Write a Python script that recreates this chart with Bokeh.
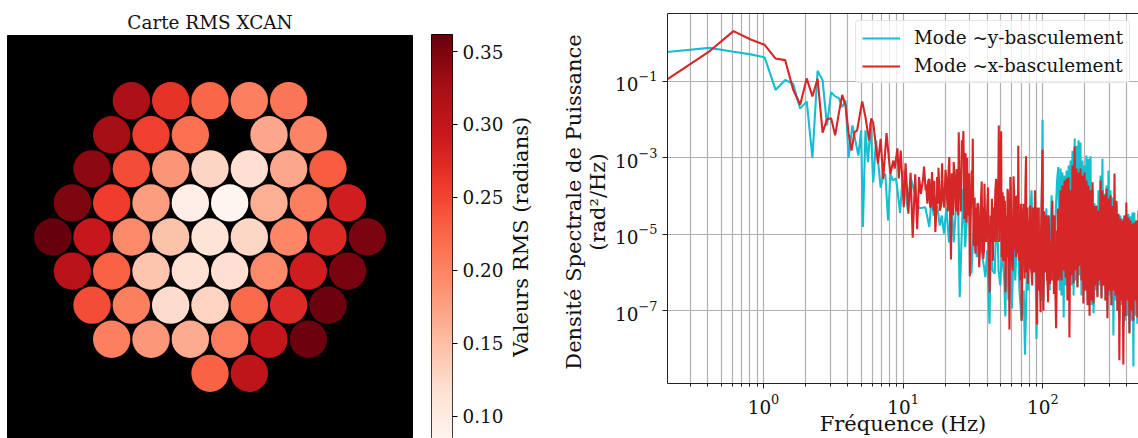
import numpy as np
from bokeh.embed import file_html
from bokeh.layouts import column, row
from bokeh.models import (ColumnDataSource, FixedTicker, Legend, LegendItem, LinearAxis, LogAxis,
                          LinearColorMapper, Range1d, Title)
from bokeh.palettes import Reds256
from bokeh.plotting import figure
from bokeh.resources import INLINE

SERIF = "DejaVu Serif"
TEXT = "#111111"

# ---------- segment map: one list per hexagonal row, None = no segment
rms_rows = [
    [0.320, 0.265, 0.225, 0.205, 0.212],
    [0.325, 0.255, 0.218, None, 0.170, 0.200],
    [0.340, 0.245, 0.185, 0.128, 0.120, 0.170, 0.232],
    [0.348, 0.257, 0.178, 0.095, 0.0835, 0.163, 0.205, 0.287],
    [0.361, 0.295, 0.195, 0.146, 0.113, 0.127, 0.198, 0.275, 0.350],
    [0.310, 0.228, 0.144, 0.118, 0.120, 0.195, 0.288, 0.352],
    [0.245, 0.205, 0.122, 0.130, 0.222, 0.275, 0.358],
    [0.203, 0.183, 0.167, 0.206, 0.300, 0.358],
    [None, None, 0.228, 0.305, None],
]
rms_low, rms_high = 0.0833, 0.3617
rms_ticks = [0.10, 0.15, 0.20, 0.25, 0.30, 0.35]

# ---------- PSD: (frequency Hz, log10 of rad^2/Hz)
mode_y_low = [
    (0.2,-0.23),(0.41,-0.12),(0.61,-0.22),(0.81,-0.29),(1.02,-0.37),(1.22,-1.22),(1.43,-0.96),(1.63,-1.06),
    (1.83,-1.71),(2.04,-1.52),(2.24,-3.0),(2.44,-0.72),(2.65,-0.97),(2.85,-2.15),(3.05,-1.28),(3.26,-1.39),
    (3.46,-1.43),(3.66,-1.67),(3.87,-1.50),(4.07,-3.0),(4.33,-2.15),(4.78,-2.94),(5.0,-2.28),(5.15,-4.81),
    (5.37,-2.28),(5.6,-3.11),(5.85,-2.07),(6.1,-3.64),(6.4,-2.54),(6.9,-3.78),(7.2,-3.46),(7.45,-3.42),
    (7.8,-4.64),(8.1,-3.41),(8.4,-3.59),(8.9,-3.54),(9.5,-4.44),(10.0,-3.33),(10.8,-4.38),(11.3,-3.5),
    (12.2,-3.98),(13.0,-4.32),(14.4,-4.29),(15.4,-4.81),(16.0,-3.98),(16.5,-4.51),(17.5,-4.25),(18.3,-4.77),
    (18.9,-4.51),(19.6,-4.98),(20.4,-4.3),(21.3,-5.21),(22.2,-4.12),(23.0,-5.21),(24.6,-3.59),(25.4,-6.65),
    (26.9,-3.81),(27.8,-5.34),(29.4,-3.85),(30.8,-6.03),(32.5,-4.38),(33.6,-5.6),(35.7,-4.81),(37.0,-5.6),
]
mode_y_mid = [
    (38.8,-6.12),(40,-5.42),(41.5,-7.34),(42.5,-4.9),(43.6,-5.95),(45.2,-6.03),(46.8,-4.2),(48.2,-5.95),
    (49.6,-6.34),(51,-5.38),(53,-6.21),(53.9,-7.15),(55,-5.16),(56.8,-6.73),(58.5,-5.69),(60,-6.94),
    (62,-5.16),(63.5,-6.21),(65.8,-4.42),(68,-6.47),(70.5,-7.26),(73,-6.47),(74.5,-8.15),(77,-5.82),
    (78.5,-6.47),(80.5,-4.64),(83,-3.85),(85,-5.69),(88,-4.9),(90,-7.74),(93,-4.55),(95,-6.21),
    (97,-6.73),(99.5,-2.0),(101,-6.73),(103,-5.16),(106,-4.32),(108,-5.95),(110,-4.55),(112,-6.47),
    (115.5,-3.98),(119,-6.21),(123.4,-4.51),(126.5,-3.59),(129,-3.24),(132,-6.47),
]
mode_x_low = [
    (0.2,-0.97),(0.41,-0.21),(0.61,0.32),(0.81,0.10),(1.02,-0.04),(1.22,-0.40),(1.43,-0.44),(1.63,-1.21),
    (1.83,-1.61),(2.04,-0.92),(2.24,-1.39),(2.44,-0.93),(2.65,-2.34),(2.85,-1.99),(3.05,-1.96),(3.26,-2.41),
    (3.46,-1.84),(3.66,-1.35),(3.87,-1.63),(4.07,-2.36),(4.27,-2.81),(4.48,-2.33),(4.68,-2.28),(5.09,-1.52),
    (5.37,-1.93),(5.7,-2.54),(5.9,-1.97),(6.1,-2.07),(6.6,-3.15),(6.9,-2.5),(7.2,-3.55),(7.6,-2.35),
    (8.1,-3.42),(8.5,-3.07),(8.7,-3.28),(9.1,-2.75),(9.3,-3.54),(9.6,-2.81),(10.1,-4.29),(10.4,-3.14),
    (10.9,-4.46),(11.3,-3.39),(11.7,-5.09),(12.2,-3.43),(12.6,-4.87),(13.0,-3.50),(13.4,-3.94),(13.9,-3.54),
    (14.1,-3.23),(14.5,-3.85),(15.0,-4.12),(15.4,-3.55),(15.8,-4.25),(16.1,-3.37),(16.6,-4.38),(17.0,-4.94),
    (17.5,-3.85),(17.9,-3.26),(18.3,-4.38),(19.0,-3.14),(19.4,-4.12),(20.1,-3.31),(20.6,-4.07),(21.4,-2.98),
    (22.0,-5.66),(22.5,-4.12),(23.0,-3.11),(23.8,-4.29),(24.5,-3.33),(25.0,-2.33),(25.5,-3.59),(26.3,-2.54),
    (27.0,-2.30),(28.0,-2.89),(29.0,-4.38),(30.0,-6.1),(31.0,-3.33),(31.5,-2.50),(32.5,-4.04),(33.0,-5.51),
    (34.0,-4.2),(35.0,-5.86),(35.8,-4.4),(36.5,-3.62),(37.5,-5.64),(38.2,-3.68),
]
mode_x_mid = [
    (38.8,-4.81),(40.5,-3.77),(41.6,-6.52),(42.3,-4.51),(43.2,-4.07),(43.9,-5.69),(44.7,-4.98),(45.7,-3.85),
    (46.3,-3.55),(47.3,-4.46),(48.4,-2.15),(49,-4.38),(49.5,-4.03),(50.3,-2.3),(51,-4.01),(53,-5.24),
    (53.5,-4.12),(54,-6.52),(54.9,-4.51),(55.9,-3.81),(56.8,-5.16),(57.7,-7.49),(58.5,-3.5),(59.5,-4.9),
    (60.8,-5.95),(61.7,-3.48),(63,-5.42),(64.7,-5.24),(65.8,-3.98),(66.7,-2.68),(67.5,-5.69),(68.5,-4.73),
    (69,-6.21),(70.5,-7.26),(71.9,-4.51),(72.7,-4.2),(73.7,-5.69),(74,-6.16),(75,-3.85),(75.8,-2.96),
    (77,-5.69),(78,-6.3),(79,-4.64),(80.8,-4.25),(82.5,-5.95),(84,-6.34),(85.5,-4.51),(87.8,-3.85),
    (89,-5.95),(91,-7.37),(92,-5.42),(93,-4.77),(94.2,-6.47),(96.4,-7.04),(98,-4.12),(99.5,-2.79),
    (101,-7.0),(103,-5.16),(105,-5.12),(107,-6.21),(109,-6.78),(111,-4.9),(114,-5.2),(115.5,-6.21),
    (117,-4.12),(118.5,-5.95),(120,-6.56),(121.5,-4.51),(124.5,-7.46),(126.5,-4.9),(128,-4.33),(130,-6.21),
    (132,-6.12),
]
# further samples inside the solid red band
mode_x_band = [
    (14.6,-3.7),(14.9,-4.2),(15.1,-3.6),(15.6,-4.3),(16.2,-3.7),(16.4,-4.25),(16.7,-3.6),(17.3,-4.3),
    (17.5,-3.5),(17.8,-4.2),(18.1,-3.7),(18.7,-4.25),(19.1,-3.6),(19.7,-4.3),(20.4,-3.6),(20.9,-4.4),
    (21.1,-3.4),(21.7,-4.5),(22.3,-3.4),(22.8,-4.5),(23.4,-3.5),(24.0,-4.4),(24.2,-3.3),(24.8,-4.5),
    (25.2,-3.3),(25.9,-4.4),(26.6,-3.0),(27.4,-4.6),(27.6,-2.9),(28.3,-4.7),(28.7,-3.0),(29.4,-4.5),
    (29.7,-3.4),(30.4,-4.7),(31.2,-4.2),(31.9,-5.3),(32.2,-4.2),(32.8,-5.4),(33.3,-4.3),(33.6,-5.3),
    (34.4,-4.2),(35.4,-5.5),(36.0,-4.2),(36.9,-5.5),(37.4,-4.3),(37.9,-5.4),(38.5,-4.4),(39.3,-5.2),
    (40,-4.3),(40.9,-5.3),(42.7,-5.2),(44.2,-4.3),(45,-5.2),(46.8,-5.2),(47.8,-4.3),(48.8,-5.2),
    (50.7,-5.6),(51.5,-3.9),(52,-5.7),(52.5,-4.0),(55.4,-5.6),(56.3,-3.9),(57.1,-5.6),(59,-3.8),
    (60,-5.6),(61.2,-5.5),(62.3,-3.9),(63.8,-4.0),(64.2,-5.6),(65.2,-5.0),(66.2,-5.5),(67.1,-4.0),
    (68,-5.6),(69.7,-4.2),(71.2,-5.9),(73.2,-4.3),(76.3,-6.0),(77.5,-4.3),(78.5,-5.9),(80,-5.9),
    (81.6,-4.3),(83,-6.0),(84.8,-4.3),(86.5,-6.0),(88.4,-4.4),(90,-6.0),(91.5,-4.3),(92.5,-6.0),
    (93.5,-4.3),(95.2,-6.0),(97,-5.0),(100,-5.9),(102,-4.4),(104,-6.0),(106,-4.5),(108,-6.2),
    (110,-4.5),(112.5,-6.3),(116,-4.6),(119,-4.5),(122.5,-6.3),(125.5,-6.4),(127.2,-6.2),(129,-4.5),
    (131,-4.6),(133,-4.5),
]
freq_hf = [
    134,136,138,141,143,145.5,148,150,153,155,
    158,160,163,166,169,171.5,174,177,180,183,
    186,189,192,195,199,202,205,209,212,216,
    219.5,223,227,231,234,238,242,246,250,254,
    259,263,267,272,276,281,286,290,295,300,
    305,310,315,320,326,331,337,342,348,353,
    359,365,371,377,384,390,396,403,410,417,
    424,431,438,445,452,460,468,475,484,
]
mode_y_hf = [
    -3.28,-6.60,-3.38,-7.18,-3.46,-6.34,-3.33,-6.47,-3.20,-6.21,
    -3.07,-6.34,-2.81,-6.60,-2.49,-6.21,-2.68,-6.34,-2.54,-6.08,
    -2.60,-6.60,-3.07,-6.34,-3.20,-6.47,-2.94,-6.73,-3.02,-6.47,
    -2.96,-6.86,-3.85,-7.07,-4.19,-6.47,-4.25,-6.60,-3.85,-6.34,
    -3.46,-6.65,-3.02,-6.34,-3.93,-6.73,-3.72,-7.00,-3.33,-6.60,
    -3.85,-6.86,-4.04,-7.65,-4.12,-6.73,-4.25,-7.00,-4.51,-7.26,
    -4.51,-6.86,-4.59,-7.39,-4.51,-7.26,-4.48,-7.13,-4.46,-7.57,
    -4.53,-7.26,-4.43,-8.46,-4.43,-7.13,-4.64,-7.34,-4.72,
]
mode_x_hf = [
    -3.85,-6.21,-3.72,-5.95,-3.59,-6.13,-3.54,-6.73,-3.51,-7.70,
    -3.85,-6.08,-3.20,-6.29,-2.70,-5.95,-3.28,-6.39,-3.38,-5.82,
    -3.28,-6.21,-3.46,-6.81,-3.38,-6.47,-3.59,-6.86,-3.72,-7.13,
    -3.85,-6.73,-3.64,-6.81,-4.25,-6.34,-4.25,-6.65,-4.38,-6.21,
    -3.59,-6.68,-3.85,-6.34,-3.98,-6.73,-3.80,-7.20,-4.06,-6.47,
    -3.98,-6.86,-4.25,-6.47,-3.41,-6.60,-4.12,-7.00,-4.46,-8.30,
    -4.59,-6.73,-4.64,-8.41,-4.51,-7.15,-4.17,-6.73,-4.56,-7.60,
    -4.64,-7.00,-4.72,-7.26,-4.69,-6.73,-4.64,-7.18,-4.38,
]
x_major = [1, 10, 100]
x_minor = [0.3,0.4,0.5,0.6,0.7,0.8,0.9,2,3,4,5,6,7,8,9,20,30,40,50,60,70,80,90,200,300,400]
y_major = [1e-1, 1e-3, 1e-5, 1e-7]

# ---------- left: map
palette = Reds256[::-1]
mapper = LinearColorMapper(palette=palette, low=rms_low, high=rms_high)
seg_x, seg_y, seg_v = [], [], []
root3_2 = np.sqrt(3) / 2
for i, vals in enumerate(rms_rows):
    n = len(vals)
    for j, v in enumerate(vals):
        if v is not None:
            seg_x.append(j - (n - 1) / 2)
            seg_y.append((4 - i) * root3_2)
            seg_v.append(v)

m = figure(width=431, height=438, output_backend="svg", toolbar_location=None,
           x_range=Range1d(-5.149, 5.149), y_range=Range1d(-5.12, 5.12),
           min_border_left=7, min_border_right=19, min_border_top=35, min_border_bottom=0,
           background_fill_color="black", border_fill_color="white", outline_line_color="black")
m.axis.visible = False
m.grid.visible = False
m.title = Title(text="Carte RMS XCAN", align="center", text_font=SERIF, text_font_size="18.4px",
                text_font_style="normal", text_color=TEXT, offset=0, standoff=5)
m.circle(x="x", y="y", radius=0.475, source=ColumnDataSource(dict(x=seg_x, y=seg_y, v=seg_v)),
         fill_color={"field": "v", "transform": mapper}, line_color=None)

# ---------- colour bar
cb = figure(width=75, height=438, output_backend="svg", toolbar_location=None,
            x_range=Range1d(0, 1), y_range=Range1d(0.0847, rms_high),
            min_border_left=0, min_border_right=54, min_border_top=34, min_border_bottom=0,
            outline_line_color="black", border_fill_color="white", y_axis_location="right")
cb.xaxis.visible = False
cb.grid.visible = False
cb.image(image=[np.linspace(rms_low, rms_high, 256).reshape(256, 1)], x=0, y=rms_low, dw=1,
         dh=rms_high - rms_low, color_mapper=mapper)
ax = cb.yaxis[0]
ax.ticker = FixedTicker(ticks=rms_ticks)
ax.major_label_overrides = {t: f"{t:.2f}" for t in rms_ticks}
ax.major_label_text_font = SERIF
ax.major_label_text_font_size = "18.4px"
ax.major_label_text_color = TEXT
ax.major_tick_out = 5
ax.major_tick_in = 0
ax.minor_tick_line_color = None
ax.axis_line_color = None
ax.major_tick_line_color = "black"


# ---------- panels that only carry a rotated axis title
def label_axis(text, standoff, axis_type=LinearAxis, **kw):
    return axis_type(ticker=FixedTicker(ticks=[]), axis_line_color=None,
                     major_tick_line_color=None, minor_tick_line_color=None, major_label_text_color=None,
                     axis_label=text, axis_label_text_font=SERIF, axis_label_text_font_style="normal",
                     axis_label_text_font_size="21px", axis_label_text_color=TEXT,
                     axis_label_standoff=standoff, **kw)


def label_panel(width, top, bottom, labels):
    p = figure(width=width, height=438, output_backend="svg", toolbar_location=None,
               x_range=Range1d(0, 1), y_range=Range1d(0, 1), x_axis_location=None, y_axis_location=None,
               min_border_left=width - 1, min_border_right=0, min_border_top=top, min_border_bottom=bottom,
               outline_line_color=None, border_fill_color="white", background_fill_color="white")
    p.grid.visible = False
    for text, standoff in labels:
        p.add_layout(label_axis(text, standoff), "left")
    return p


cb_title = label_panel(30, 35, 0, [("Valeurs RMS (radians)", 4)])
psd_title = label_panel(76, 20, 55, [("(rad²/Hz)", 2), ("Densité Spectrale de Puissance", -3)])


# ---------- right: PSD
def series(parts, hf):
    pts = sorted(p for part in parts for p in part)
    f = [a for a, _ in pts] + freq_hf
    e = [b for _, b in pts] + hf
    return f, [10.0 ** v for v in e]


fy, py = series([mode_y_low, mode_y_mid], mode_y_hf)
fx, px = series([mode_x_low, mode_x_mid, mode_x_band], mode_x_hf)

s = figure(width=526, height=438, output_backend="svg", toolbar_location=None,
           x_axis_type="log", y_axis_type="log",
           x_range=Range1d(0.2055, 484), y_range=Range1d(10 ** -8.906, 10 ** 0.78),
           min_border_left=55, min_border_right=0, min_border_top=13, min_border_bottom=55,
           outline_line_color=None, border_fill_color="white")
ry = s.line(fy, py, line_color="#17becf", line_width=2.1)
rx = s.line(fx, px, line_color="#d62728", line_width=2.1)

s.xaxis.ticker = FixedTicker(ticks=x_major, minor_ticks=x_minor)
s.yaxis.ticker = FixedTicker(ticks=y_major)
for a in (s.xaxis[0], s.yaxis[0]):
    a.major_label_text_font = SERIF
    a.major_label_text_font_size = "18.4px"
    a.major_label_text_color = TEXT
    a.axis_line_color = "#222222"
    a.major_tick_line_color = "#222222"
    a.minor_tick_line_color = "#222222"
    a.major_tick_out = 5
    a.major_tick_in = 0
    a.minor_tick_out = 3
    a.minor_tick_in = 0
s.yaxis[0].minor_tick_line_color = None

s.add_layout(label_axis("Fréquence (Hz)", -5, LogAxis, bounds=(0.2055, 320)), "below")

s.xgrid.grid_line_color = "#b0b0b0"
s.xgrid.minor_grid_line_color = "#b0b0b0"
s.xgrid.grid_line_width = 1.2
s.xgrid.minor_grid_line_width = 1.2
s.ygrid.grid_line_color = "#b0b0b0"
s.ygrid.grid_line_width = 1.2

top = LogAxis(ticker=FixedTicker(ticks=[]), major_tick_line_color=None, minor_tick_line_color=None,
              major_label_text_color=None, axis_line_color="#222222")
s.add_layout(top, "above")

legend = Legend(items=[LegendItem(label="Mode ~y-basculement", renderers=[ry]),
                       LegendItem(label="Mode ~x-basculement", renderers=[rx])],
                location=(188, 300), label_text_font=SERIF, label_text_font_size="18.4px",
                label_text_color=TEXT, glyph_width=38, glyph_height=20, label_standoff=14,
                spacing=7, padding=6, margin=0, border_line_color="#cccccc", background_fill_alpha=0.8)
if "border_radius" in Legend.properties():
    legend.border_radius = 4
s.add_layout(legend)

layout = row(column(m), column(cb), column(cb_title), column(psd_title), column(s), spacing=0)
open("out.html", "w").write(file_html(layout, INLINE))
